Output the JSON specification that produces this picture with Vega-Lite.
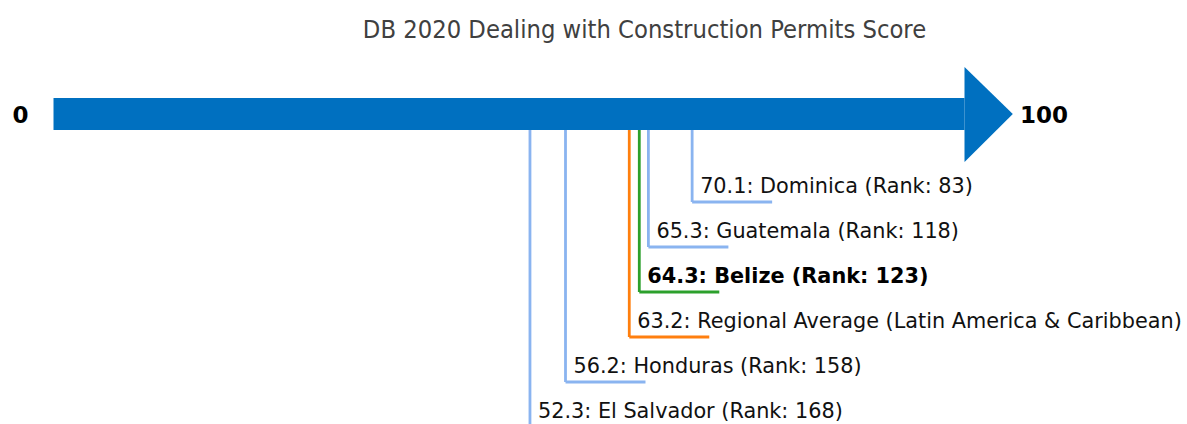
{
  "$schema": "https://vega.github.io/schema/vega-lite/v6.json",
  "width": 1187,
  "height": 424,
  "autosize": {"type": "none"},
  "padding": 0,
  "background": "white",
  "config": {"view": {"stroke": null}},
  "title": {
    "text": "DB 2020 Dealing with Construction Permits Score",
    "frame": "group",
    "anchor": "middle",
    "offset": -63,
    "dx": 51,
    "baseline": "alphabetic",
    "font": "DejaVu Sans Condensed",
    "fontSize": 25.3,
    "fontWeight": "normal",
    "color": "#404040"
  },
  "datasets": {
    "scores": [
      {"name": "Dominica", "score": 70.1, "level": 1, "group": "comparator", "label": "70.1: Dominica (Rank: 83)"},
      {"name": "Guatemala", "score": 65.3, "level": 2, "group": "comparator", "label": "65.3: Guatemala (Rank: 118)"},
      {"name": "Belize", "score": 64.3, "level": 3, "group": "focus", "label": "64.3: Belize (Rank: 123)"},
      {"name": "Regional Average", "score": 63.2, "level": 4, "group": "region", "label": "63.2: Regional Average (Latin America & Caribbean)"},
      {"name": "Honduras", "score": 56.2, "level": 5, "group": "comparator", "label": "56.2: Honduras (Rank: 158)"},
      {"name": "El Salvador", "score": 52.3, "level": 6, "group": "comparator", "label": "52.3: El Salvador (Rank: 168)"}
    ],
    "shaft": [
      {"start": 0, "end": 100, "top": -1.311, "bottom": -0.6}
    ],
    "arrowhead": [
      {"score": 100, "top": -2.0, "bottom": 0.111},
      {"score": 105.3, "top": -0.956, "bottom": -0.956}
    ],
    "ends": [
      {"end": "0", "pos": 0, "mid": -0.956},
      {"end": "100", "pos": 100, "mid": -0.956}
    ]
  },
  "layer": [
    {
      "data": {"name": "scores"},
      "mark": {"type": "rule", "strokeWidth": 2.8},
      "encoding": {
        "x": {"field": "score", "type": "quantitative", "scale": {"domain": [-5.873, 124.42], "nice": false, "zero": false}, "axis": null},
        "y": {"field": "level", "type": "quantitative", "scale": {"domain": [-3.489, 5.933], "nice": false, "zero": false, "reverse": true}, "axis": null},
        "y2": {"datum": -0.956},
        "color": {"field": "group", "type": "nominal", "scale": {"domain": ["comparator", "region", "focus"], "range": ["#8ab4f0", "#ff7f0e", "#2ca02c"]}, "legend": null}
      }
    },
    {
      "data": {"name": "scores"},
      "mark": {"type": "rule", "strokeWidth": 2.8, "x2Offset": 80},
      "encoding": {
        "x": {"field": "score", "type": "quantitative"},
        "x2": {"field": "score"},
        "y": {"field": "level", "type": "quantitative"},
        "color": {"field": "group", "type": "nominal", "legend": null}
      }
    },
    {
      "data": {"name": "scores"},
      "transform": [{"filter": "datum.group != 'focus'"}],
      "mark": {"type": "text", "align": "left", "baseline": "alphabetic", "dx": 8, "dy": -9, "font": "DejaVu Sans", "fontSize": 20.8, "color": "#111111"},
      "encoding": {
        "x": {"field": "score", "type": "quantitative"},
        "y": {"field": "level", "type": "quantitative"},
        "text": {"field": "label", "type": "nominal"}
      }
    },
    {
      "data": {"name": "scores"},
      "transform": [{"filter": "datum.group == 'focus'"}],
      "mark": {"type": "text", "align": "left", "baseline": "alphabetic", "dx": 8, "dy": -9, "font": "DejaVu Sans", "fontSize": 20.8, "fontWeight": "bold", "color": "#000000"},
      "encoding": {
        "x": {"field": "score", "type": "quantitative"},
        "y": {"field": "level", "type": "quantitative"},
        "text": {"field": "label", "type": "nominal"}
      }
    },
    {
      "data": {"name": "shaft"},
      "mark": {"type": "rect", "color": "#0070c0"},
      "encoding": {
        "x": {"field": "start", "type": "quantitative"},
        "x2": {"field": "end"},
        "y": {"field": "top", "type": "quantitative"},
        "y2": {"field": "bottom"}
      }
    },
    {
      "data": {"name": "arrowhead"},
      "mark": {"type": "area", "color": "#0070c0", "orient": "vertical", "interpolate": "linear"},
      "encoding": {
        "x": {"field": "score", "type": "quantitative"},
        "y": {"field": "top", "type": "quantitative"},
        "y2": {"field": "bottom"}
      }
    },
    {
      "data": {"name": "ends"},
      "transform": [{"filter": "datum.pos == 0"}],
      "mark": {"type": "text", "align": "right", "baseline": "alphabetic", "dx": -25, "dy": 9, "font": "DejaVu Sans", "fontSize": 23, "fontWeight": "bold", "color": "#000000"},
      "encoding": {
        "x": {"field": "pos", "type": "quantitative"},
        "y": {"field": "mid", "type": "quantitative"},
        "text": {"field": "end", "type": "nominal"}
      }
    },
    {
      "data": {"name": "ends"},
      "transform": [{"filter": "datum.pos == 100"}],
      "mark": {"type": "text", "align": "left", "baseline": "alphabetic", "dx": 55.5, "dy": 9, "font": "DejaVu Sans", "fontSize": 23, "fontWeight": "bold", "color": "#000000"},
      "encoding": {
        "x": {"field": "pos", "type": "quantitative"},
        "y": {"field": "mid", "type": "quantitative"},
        "text": {"field": "end", "type": "nominal"}
      }
    }
  ]
}
